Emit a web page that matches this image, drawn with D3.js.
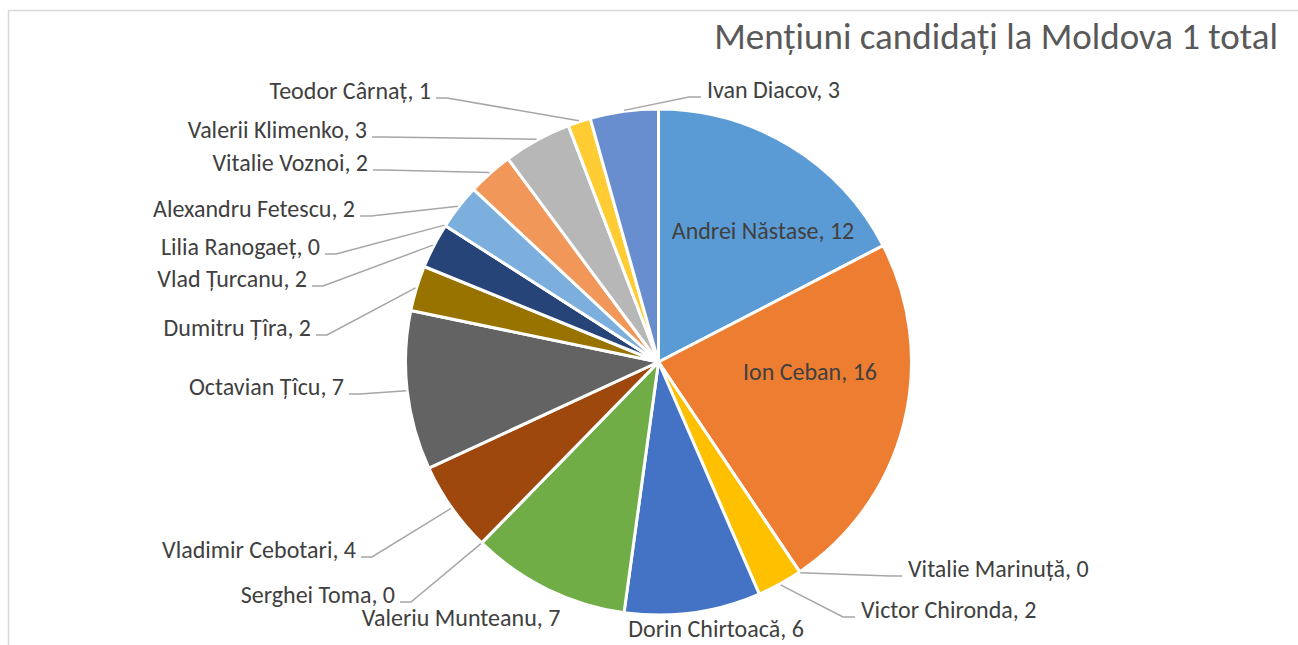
<!DOCTYPE html>
<html><head><meta charset="utf-8">
<script src="https://cdn.jsdelivr.net/npm/d3@7"></script>
<style>body{margin:0;background:#fff;} svg{display:block;}</style>
</head><body>
<svg id="chart" width="1298" height="645"></svg>
<script>
const categories = ["Andrei Năstase","Ion Ceban","Vitalie Marinuță","Victor Chironda","Dorin Chirtoacă","Valeriu Munteanu","Serghei Toma","Vladimir Cebotari","Octavian Țîcu","Dumitru Țîra","Vlad Țurcanu","Lilia Ranogaeț","Alexandru Fetescu","Vitalie Voznoi","Valerii Klimenko","Teodor Cârnaț","Ivan Diacov"];
const values = [12,16,0,2,6,7,0,4,7,2,2,0,2,2,3,1,3];
const colors = ["#5B9BD5","#ED7D31","#A5A5A5","#FFC000","#4472C4","#70AD47","#255E91","#9E480E","#636363","#997300","#264478","#43682B","#7CAFDD","#F1975A","#B7B7B7","#FFCD33","#698ED0"];
const title = "Mențiuni candidați la Moldova 1 total";

// label layout (x, baseline y, anchor, has leader line)
const labelLayout = [
  [763,239,"middle",false],
  [810,380,"middle",false],
  [908,577,"start",true],
  [861,618,"start",true],
  [716,637,"middle",false],
  [461,626,"middle",false],
  [395,603,"end",true],
  [356,558,"end",true],
  [344,395,"end",true],
  [311,336,"end",true],
  [307,287,"end",true],
  [320,255,"end",true],
  [355,217,"end",true],
  [368,171,"end",true],
  [367,138,"end",true],
  [431,99,"end",true],
  [707,98,"start",true]
];

const W = 1298, H = 645;
const cx = 658.5, cy = 362, R = 253;
const FONT = "Carlito, Lato, 'Open Sans', sans-serif";

const svg = d3.select("#chart");

svg.append("rect").attr("x",8.5).attr("y",10.5).attr("width",1400).attr("height",1000)
  .attr("fill","#fff").attr("stroke","#d9d9d9").attr("stroke-width",1.5);

const data = categories.map((c,i)=>({name:c, value:values[i], color:colors[i], layout:labelLayout[i]}));

const pie = d3.pie().sort(null).value(d=>d.value).startAngle(0).endAngle(2*Math.PI);
const arcs = pie(data);
const arc = d3.arc().innerRadius(0).outerRadius(R);
const edgeArc = d3.arc().innerRadius(R+1).outerRadius(R+1);

const g = svg.append("g").attr("transform",`translate(${cx},${cy})`);
g.selectAll("path.slice").data(arcs).join("path")
  .attr("class","slice")
  .attr("d",arc)
  .attr("fill",d=>d.data.color)
  .attr("stroke","#fff").attr("stroke-width",3).attr("stroke-linejoin","round");

// title
const t = svg.append("text").text(title)
  .attr("x",1278).attr("y",49).attr("text-anchor","end")
  .attr("font-family",FONT).attr("font-size",100).attr("fill","#595959");
const tw = t.node().getComputedTextLength();
t.attr("font-size", 100*564/tw);

// calibrate label font size
const probe = svg.append("text").text("Alexandru Fetescu, 2").attr("font-family",FONT).attr("font-size",100);
const pw = probe.node().getComputedTextLength();
probe.remove();
const labelSize = 100*202/pw;

const labels = svg.append("g");
arcs.forEach(a=>{
  const [x,y,anchor,leader] = a.data.layout;
  labels.append("text")
    .attr("x",x).attr("y",y).attr("text-anchor",anchor)
    .attr("font-family",FONT).attr("font-size",labelSize).attr("fill","#404040")
    .text(`${a.data.name}, ${a.data.value}`);
  if(leader){
    const [px,py] = edgeArc.centroid(a);
    const ax = cx+px, ay = cy+py;
    const ly = y-1;
    let x0,x1;
    if(anchor==="end"){ x0 = x+5; x1 = x+16; }
    else { x0 = x-6; x1 = x-18; }
    labels.append("path")
      .attr("d",`M${x0},${ly}L${x1},${ly}L${ax},${ay}`)
      .attr("fill","none").attr("stroke","#a6a6a6").attr("stroke-width",1.5);
  }
});
</script>
</body></html>
